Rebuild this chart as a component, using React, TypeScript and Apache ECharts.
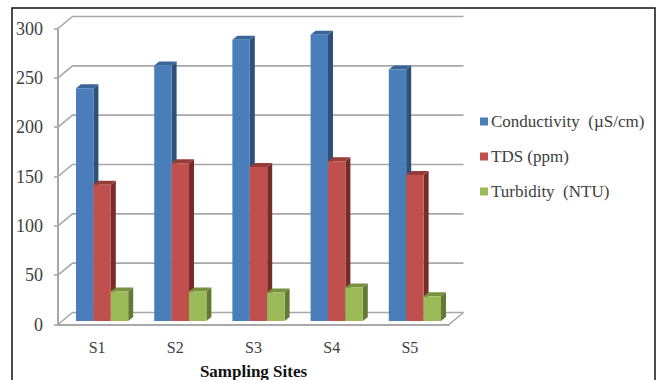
import React, { useEffect, useRef } from "react";
import * as echarts from "echarts";

const sites = ["S1", "S2", "S3", "S4", "S5"];
const conductivity = [236, 259, 285, 290, 255];
const tds = [138, 160, 156, 162, 148];
const turbidity = [30, 30, 29, 34, 25];
const yTicks = [0, 50, 100, 150, 200, 250, 300];

const SERIF = "'Liberation Serif', serif";
const WALL = "#a8a8a8";
const DEPTH_X = 14.5;
const DEPTH_Y = 12;
const BAR_SHIFT_X = 5;
const BAR_SHIFT_Y = 3.5;
const BAR_DX = 5;
const BAR_DY = 4;
const BAR_SHARE = 0.2225;

// Back wall, side wall and floor of the 3D box, one element per axis tick.
const renderWall = (params: any, api: any) => {
  const v = api.value(0);
  const box = params.coordSys;
  const y = api.coord([0, v])[1];
  const left = box.x;
  const right = box.x + box.width;
  const lineStyle = { stroke: WALL, lineWidth: 1.6, fill: "none" };
  const children: any[] = [
    {
      type: "polyline",
      shape: { points: [[left, y], [left + DEPTH_X, y - DEPTH_Y], [right + DEPTH_X, y - DEPTH_Y]] },
      style: lineStyle,
    },
  ];
  if (v === 0) {
    children.push({
      type: "line",
      shape: { x1: right, y1: y, x2: right + DEPTH_X, y2: y - DEPTH_Y },
      style: lineStyle,
    });
  }
  return { type: "group", children };
};

// Extruded column: front face plus top and right faces.
const makeBar = (slot: number, front: string, side: string, top: string) => (params: any, api: any) => {
  const idx = api.value(0);
  const [cx, baseY] = api.coord([idx, 0]);
  const topY = api.coord([idx, api.value(1)])[1] - BAR_SHIFT_Y;
  const floorY = baseY - BAR_SHIFT_Y;
  const w = api.size([1, 0])[0] * BAR_SHARE;
  const x0 = cx + BAR_SHIFT_X + (slot - 1.5) * w;
  const x1 = x0 + w;
  return {
    type: "group",
    children: [
      {
        type: "polygon",
        shape: { points: [[x1, topY], [x1 + BAR_DX, topY - BAR_DY], [x1 + BAR_DX, floorY - BAR_DY], [x1, floorY]] },
        style: { fill: side },
      },
      {
        type: "polygon",
        shape: { points: [[x0, topY], [x0 + BAR_DX, topY - BAR_DY], [x1 + BAR_DX, topY - BAR_DY], [x1, topY]] },
        style: { fill: top },
      },
      { type: "rect", shape: { x: x0, y: topY, width: w, height: floorY - topY }, style: { fill: front } },
    ],
  };
};

const barSeries = (name: string, values: number[], slot: number, front: string, side: string, top: string) => ({
  type: "custom",
  name,
  renderItem: makeBar(slot, front, side, top),
  data: values.map((v, i) => [i, v]),
  encode: { x: 0, y: 1 },
  itemStyle: { color: front },
  z: 3,
});

export default function App() {
  const ref = useRef<HTMLDivElement>(null);

  useEffect(() => {
    const chart = echarts.init(ref.current!, undefined, { renderer: "svg" });
    chart.setOption({
      animation: false,
      backgroundColor: "#ffffff",
      grid: { left: 58, top: 28.5, width: 391, height: 296, outerBoundsMode: "none" },
      xAxis: {
        type: "category",
        data: sites,
        name: "Sampling Sites",
        nameLocation: "middle",
        nameGap: 38,
        nameTextStyle: { fontFamily: SERIF, fontSize: 17, fontWeight: "bold", color: "#111111" },
        axisLine: { show: true, lineStyle: { color: WALL, width: 2 } },
        axisTick: { show: false },
        axisLabel: { fontFamily: SERIF, fontSize: 16, color: "#404040", margin: 15 },
        splitLine: { show: false },
      },
      yAxis: {
        type: "value",
        min: 0,
        max: 300,
        interval: 50,
        axisLine: { show: true, lineStyle: { color: WALL, width: 2 } },
        axisTick: { show: true, length: 4, lineStyle: { color: WALL, width: 1.6 } },
        axisLabel: { fontFamily: SERIF, fontSize: 18, color: "#404040", margin: 15 },
        splitLine: { show: false },
      },
      legend: {
        orient: "vertical",
        left: 480,
        top: 113,
        padding: 0,
        itemWidth: 8,
        itemHeight: 8,
        itemGap: 18,
        icon: "rect",
        data: ["Conductivity  (µS/cm)", "TDS (ppm)", "Turbidity  (NTU)"],
        textStyle: { fontFamily: SERIF, fontSize: 17, color: "#404040", lineHeight: 15, padding: [0, 0, 0, -2] },
      },
      graphic: [
        {
          type: "rect",
          z: -10,
          shape: { x: 12, y: 8, width: 643, height: 400 },
          style: { fill: "none", stroke: "#111111", lineWidth: 1.5 },
        },
      ],
      series: [
        {
          type: "custom",
          renderItem: renderWall,
          data: yTicks.map((v) => [v]),
          encode: { y: 0 },
          silent: true,
          z: 1,
        },
        barSeries("Conductivity  (µS/cm)", conductivity, 0, "#4a7ebb", "#2f5079", "#3a6599"),
        barSeries("TDS (ppm)", tds, 1, "#c0504d", "#772c2a", "#963d3a"),
        barSeries("Turbidity  (NTU)", turbidity, 2, "#9bbb59", "#637a35", "#78913f"),
      ],
    });
    return () => chart.dispose();
  }, []);

  return <div ref={ref} style={{ position: "fixed", left: 0, top: 0, width: 661, height: 380 }} />;
}
